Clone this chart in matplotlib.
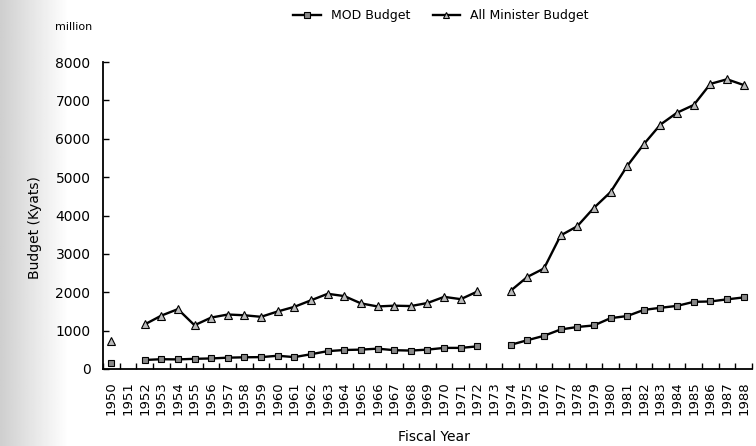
import numpy as np
import matplotlib
matplotlib.use("Agg")
import matplotlib.pyplot as plt

# Data (million Kyats); NaN = no data
years = list(range(1950, 1989))
mod_budget = [150, np.nan, 235, 255, 250, 265, 275, 295, 305, 310,
              345, 310, 385, 465, 495, 505, 530, 490, 480, 505,
              550, 550, 590, np.nan, 630, 750, 865, 1030, 1095, 1135,
              1325, 1380, 1540, 1595, 1645, 1750, 1760, 1815, 1865]
all_budget = [740, np.nan, 1160, 1390, 1560, 1140, 1340, 1420, 1400, 1360,
              1500, 1620, 1790, 1960, 1900, 1710, 1630, 1650, 1640, 1720,
              1880, 1820, 2020, np.nan, 2040, 2400, 2620, 3480, 3720, 4200,
              4610, 5290, 5860, 6370, 6680, 6880, 7430, 7550, 7400]
y_ticks = [0, 1000, 2000, 3000, 4000, 5000, 6000, 7000, 8000]

fig = plt.figure(figsize=(7.56, 4.46), dpi=100)

# grey scan shadow on the left edge
bg = fig.add_axes([0, 0, 0.09, 1], zorder=-5)
grad = np.linspace(0.74, 1.0, 60) ** 0.7
bg.imshow(np.tile(grad, (10, 1)), cmap="gray", vmin=0, vmax=1, aspect="auto")
bg.axis("off")

ax = fig.add_axes([103 / 756, 1 - 369 / 446, (752 - 103) / 756, (369 - 62) / 446])
ax.patch.set_alpha(0)

ax.plot(years, mod_budget, color="black", linewidth=1.7, marker="s",
        markersize=5, markerfacecolor="#888888", markeredgecolor="black",
        markeredgewidth=0.8, label="MOD Budget")
ax.plot(years, all_budget, color="black", linewidth=1.7, marker="^",
        markersize=5.5, markerfacecolor="#bbbbbb", markeredgecolor="black",
        markeredgewidth=0.8, label="All Minister Budget")

# Category style x axis: labels at years, ticks between them
ax.set_xlim(1949.5, 1988.5)
ax.set_xticks(years)
ax.set_xticklabels([str(y) for y in years], rotation=90, fontsize=9.5)
ax.set_xticks(np.arange(1949.5, 1989.0, 1.0), minor=True)
ax.tick_params(axis="x", which="major", length=0, pad=9)
ax.tick_params(axis="x", which="minor", direction="in", length=4, width=1)

ax.set_ylim(0, 8000)
ax.set_yticks(y_ticks)
ax.set_yticklabels([str(v) for v in y_ticks], fontsize=10)
ax.tick_params(axis="y", direction="in", length=4, width=1, pad=9)

for s in ["top", "right"]:
    ax.spines[s].set_visible(False)
for s in ["left", "bottom"]:
    ax.spines[s].set_linewidth(1.3)

fig.text(74 / 756, 1 - 27 / 446, "million", fontsize=8, ha="center", va="center")
fig.text(35 / 756, 1 - 228 / 446, "Budget (Kyats)", fontsize=10, rotation=90,
         ha="center", va="center")
fig.text(434 / 756, 1 - 437 / 446, "Fiscal Year", fontsize=10, ha="center", va="center")

fig.legend(loc="center", bbox_to_anchor=(441 / 756, 1 - 16 / 446), ncol=2,
           frameon=False, fontsize=9, handlelength=2.2, columnspacing=1.8,
           markerscale=0.9)

plt.savefig("out.png", dpi=100)
